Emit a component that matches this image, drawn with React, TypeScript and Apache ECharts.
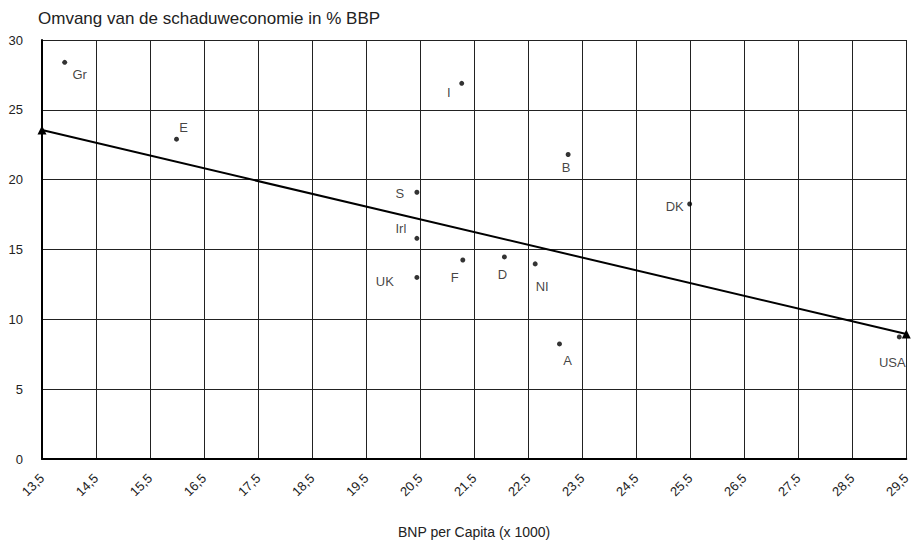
import React, { useEffect, useRef } from "react";
import * as echarts from "echarts";

const countries = ["Gr", "E", "I", "B", "S", "Irl", "UK", "F", "D", "NI", "A", "DK", "USA"];
const gdpPerCapita = [13.92, 15.99, 21.27, 23.24, 20.44, 20.44, 20.44, 21.29, 22.06, 22.63, 23.08, 25.49, 29.37];
const shadowEconomy = [28.4, 22.9, 26.9, 21.8, 19.1, 15.8, 13.0, 14.25, 14.47, 13.97, 8.24, 18.26, 8.74];
const trendX = [13.5, 29.5];
const trendY = [23.55, 8.95];
const xTickLabels = ["13,5", "14,5", "15,5", "16,5", "17,5", "18,5", "19,5", "20,5", "21,5", "22,5", "23,5", "24,5", "25,5", "26,5", "27,5", "28,5", "29,5"];
const yTickValues = [0, 5, 10, 15, 20, 25, 30];

// label offsets (style only)
const labelOffsets: Record<string, [number, number]> = {
  Gr: [15, 12],
  E: [7, -12],
  I: [-13, 9],
  B: [-2, 13],
  S: [-17, 1],
  Irl: [-16, -10],
  UK: [-32, 4],
  F: [-8, 18],
  D: [-2, 18],
  NI: [7, 23],
  A: [8, 17],
  DK: [-15, 3],
  USA: [-7, 26],
};

const X0 = 13.5;

export default function App() {
  const ref = useRef<HTMLDivElement>(null);
  useEffect(() => {
    if (!ref.current) return;
    const chart = echarts.init(ref.current, undefined, { renderer: "svg" });
    const labelFont = "'Liberation Sans', Arial, sans-serif";
    chart.setOption({
      animation: false,
      backgroundColor: "#ffffff",
      title: {
        text: "Omvang van de schaduweconomie in % BBP",
        left: 33,
        top: 5,
        textStyle: { fontFamily: labelFont, fontSize: 17, fontWeight: "normal", color: "#222" },
      },
      grid: { left: 42, right: 4, top: 40, bottom: 86 },
      xAxis: {
        type: "value",
        min: 0,
        max: xTickLabels.length - 1,
        interval: 1,
        name: "BNP per Capita (x 1000)",
        nameLocation: "middle",
        nameGap: 66,
        nameTextStyle: { fontFamily: labelFont, fontSize: 14, color: "#222" },
        axisLine: { show: true, onZero: false, lineStyle: { color: "#000", width: 2 } },
        axisTick: { show: false },
        axisLabel: {
          rotate: 45,
          margin: 17,
          fontFamily: labelFont,
          fontSize: 13,
          color: "#222",
          formatter: (v: number) => xTickLabels[Math.round(v)] ?? "",
        },
        splitLine: { show: true, lineStyle: { color: "#222", width: 1 } },
      },
      yAxis: {
        type: "value",
        min: yTickValues[0],
        max: yTickValues[yTickValues.length - 1],
        interval: 5,
        axisLine: { show: true, lineStyle: { color: "#000", width: 2 } },
        axisTick: { show: false },
        axisLabel: { margin: 19, fontFamily: labelFont, fontSize: 13, color: "#222" },
        splitLine: { show: true, lineStyle: { color: "#222", width: 1 } },
      },
      series: [
        {
          type: "line",
          data: trendX.map((x, i) => [x - X0, trendY[i]]),
          symbol: "triangle",
          symbolSize: 9,
          showAllSymbol: true,
          lineStyle: { color: "#000", width: 2 },
          itemStyle: { color: "#000" },
          z: 3,
        },
        {
          type: "scatter",
          symbol: "circle",
          symbolSize: 5,
          itemStyle: { color: "#000" },
          z: 4,
          data: countries.map((c, i) => ({
            value: [gdpPerCapita[i] - X0, shadowEconomy[i]],
            name: c,
            label: {
              show: true,
              position: "inside",
              offset: labelOffsets[c],
              formatter: c,
              color: "#111",
              textBorderWidth: 0,
              fontFamily: labelFont,
              fontSize: 13,
            },
          })),
        },
      ],
    });
    return () => chart.dispose();
  }, []);
  return <div ref={ref} style={{ width: 913, height: 545, position: "absolute", left: 0, top: 0 }} />;
}
